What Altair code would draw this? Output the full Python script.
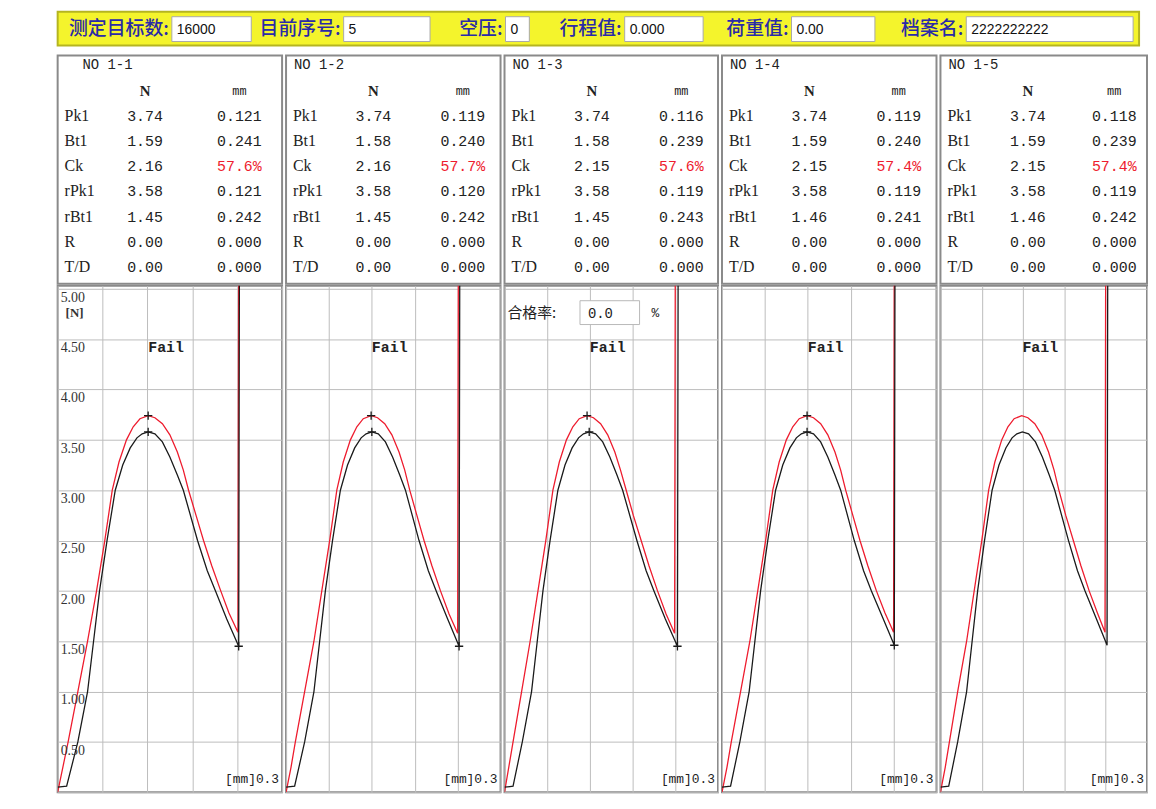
import altair as alt
import pandas as pd

# ---------------- data ----------------
PANELS = ["1-1", "1-2", "1-3", "1-4", "1-5"]
ROWS = ["Pk1", "Bt1", "Ck", "rPk1", "rBt1", "R", "T/D"]
N_VALS = [
    ["3.74", "1.59", "2.16", "3.58", "1.45", "0.00", "0.00"],
    ["3.74", "1.58", "2.16", "3.58", "1.45", "0.00", "0.00"],
    ["3.74", "1.58", "2.15", "3.58", "1.45", "0.00", "0.00"],
    ["3.74", "1.59", "2.15", "3.58", "1.46", "0.00", "0.00"],
    ["3.74", "1.59", "2.15", "3.58", "1.46", "0.00", "0.00"],
]
MM_VALS = [
    ["0.121", "0.241", "57.6%", "0.121", "0.242", "0.000", "0.000"],
    ["0.119", "0.240", "57.7%", "0.120", "0.242", "0.000", "0.000"],
    ["0.116", "0.239", "57.6%", "0.119", "0.243", "0.000", "0.000"],
    ["0.119", "0.240", "57.4%", "0.119", "0.241", "0.000", "0.000"],
    ["0.118", "0.239", "57.4%", "0.119", "0.242", "0.000", "0.000"],
]

HEADER_LABELS = ["测定目标数:", "目前序号:", "空压:", "行程值:", "荷重值:", "档案名:"]
HEADER_VALUES = ["16000", "5", "0", "0.000", "0.00", "2222222222"]

RED_X = [
    [0.000, 0.007, 0.014, 0.027, 0.040, 0.052, 0.063, 0.073, 0.082, 0.092, 0.101, 0.110, 0.121,
     0.130, 0.140, 0.150, 0.160, 0.168, 0.175, 0.185, 0.195, 0.206, 0.218, 0.229, 0.241, 0.242],
    [0.000, 0.007, 0.013, 0.026, 0.039, 0.050, 0.061, 0.071, 0.080, 0.090, 0.099, 0.108, 0.119,
     0.128, 0.138, 0.148, 0.158, 0.166, 0.173, 0.183, 0.193, 0.204, 0.216, 0.228, 0.240, 0.241],
    [0.000, 0.006, 0.012, 0.024, 0.036, 0.047, 0.058, 0.068, 0.077, 0.087, 0.096, 0.105, 0.116,
     0.125, 0.135, 0.145, 0.155, 0.163, 0.171, 0.181, 0.192, 0.203, 0.215, 0.227, 0.239, 0.240],
    [0.000, 0.007, 0.013, 0.026, 0.039, 0.050, 0.061, 0.071, 0.080, 0.090, 0.099, 0.108, 0.119,
     0.128, 0.138, 0.148, 0.158, 0.166, 0.173, 0.183, 0.193, 0.204, 0.216, 0.228, 0.240, 0.241],
    [0.000, 0.007, 0.013, 0.025, 0.038, 0.049, 0.060, 0.070, 0.079, 0.089, 0.098, 0.107, 0.118,
     0.127, 0.137, 0.147, 0.157, 0.165, 0.172, 0.182, 0.193, 0.204, 0.216, 0.228, 0.239, 0.240],
]
RED_Y = [
    [0.00, 0.25, 0.50, 1.00, 1.50, 2.00, 2.50, 3.00, 3.28, 3.50, 3.63, 3.71, 3.74,
     3.72, 3.66, 3.55, 3.38, 3.20, 3.00, 2.75, 2.50, 2.25, 2.00, 1.78, 1.59, 5.40],
    [0.00, 0.25, 0.50, 1.00, 1.50, 2.00, 2.50, 3.00, 3.28, 3.50, 3.63, 3.71, 3.74,
     3.72, 3.66, 3.55, 3.38, 3.20, 3.00, 2.75, 2.50, 2.25, 2.00, 1.77, 1.58, 5.40],
    [0.00, 0.25, 0.50, 1.00, 1.50, 2.00, 2.50, 3.00, 3.28, 3.50, 3.63, 3.71, 3.74,
     3.72, 3.66, 3.55, 3.38, 3.20, 3.00, 2.75, 2.50, 2.25, 2.00, 1.77, 1.58, 5.40],
    [0.00, 0.25, 0.50, 1.00, 1.50, 2.00, 2.50, 3.00, 3.28, 3.50, 3.63, 3.71, 3.74,
     3.72, 3.66, 3.55, 3.38, 3.20, 3.00, 2.75, 2.50, 2.25, 2.00, 1.78, 1.59, 5.40],
    [0.00, 0.25, 0.50, 1.00, 1.50, 2.00, 2.50, 3.00, 3.28, 3.50, 3.63, 3.71, 3.74,
     3.72, 3.66, 3.55, 3.38, 3.20, 3.00, 2.75, 2.50, 2.25, 2.00, 1.78, 1.59, 5.40],
]
BLACK_X = [
    [0.000, 0.012, 0.027, 0.040, 0.048, 0.056, 0.066, 0.077, 0.087, 0.097, 0.106, 0.113, 0.121,
     0.130, 0.140, 0.150, 0.160, 0.168, 0.187, 0.200, 0.211, 0.226, 0.242, 0.243],
    [0.000, 0.012, 0.026, 0.039, 0.047, 0.055, 0.065, 0.076, 0.086, 0.096, 0.105, 0.112, 0.120,
     0.129, 0.139, 0.149, 0.159, 0.167, 0.186, 0.199, 0.210, 0.226, 0.242, 0.243],
    [0.000, 0.012, 0.025, 0.038, 0.046, 0.054, 0.064, 0.075, 0.085, 0.095, 0.104, 0.111, 0.119,
     0.128, 0.138, 0.148, 0.158, 0.166, 0.186, 0.199, 0.210, 0.226, 0.243, 0.244],
    [0.000, 0.012, 0.025, 0.038, 0.046, 0.054, 0.064, 0.075, 0.085, 0.095, 0.104, 0.111, 0.119,
     0.128, 0.138, 0.148, 0.158, 0.166, 0.185, 0.198, 0.209, 0.225, 0.241, 0.242],
    [0.000, 0.012, 0.025, 0.038, 0.046, 0.054, 0.064, 0.075, 0.085, 0.095, 0.104, 0.111, 0.119,
     0.128, 0.138, 0.148, 0.158, 0.166, 0.186, 0.199, 0.210, 0.226, 0.242, 0.243],
]
BLACK_Y = [
    [0.05, 0.06, 0.50, 1.00, 1.50, 2.00, 2.50, 3.00, 3.25, 3.42, 3.52, 3.56, 3.58,
     3.56, 3.48, 3.33, 3.15, 3.00, 2.50, 2.20, 2.00, 1.72, 1.45, 5.40],
    [0.05, 0.06, 0.50, 1.00, 1.50, 2.00, 2.50, 3.00, 3.25, 3.42, 3.52, 3.56, 3.58,
     3.56, 3.48, 3.33, 3.15, 3.00, 2.50, 2.20, 2.00, 1.72, 1.45, 5.40],
    [0.05, 0.06, 0.50, 1.00, 1.50, 2.00, 2.50, 3.00, 3.25, 3.42, 3.52, 3.56, 3.58,
     3.56, 3.48, 3.33, 3.15, 3.00, 2.50, 2.20, 2.00, 1.72, 1.45, 5.40],
    [0.05, 0.06, 0.50, 1.00, 1.50, 2.00, 2.50, 3.00, 3.25, 3.42, 3.52, 3.56, 3.58,
     3.56, 3.48, 3.33, 3.15, 3.00, 2.50, 2.20, 2.00, 1.73, 1.46, 5.40],
    [0.05, 0.06, 0.50, 1.00, 1.50, 2.00, 2.50, 3.00, 3.25, 3.42, 3.52, 3.56, 3.58,
     3.56, 3.48, 3.33, 3.15, 3.00, 2.50, 2.20, 2.00, 1.73, 1.46, 5.40],
]
SHOW_MARKERS = [True, True, True, True, False]

X_GRID = [0.0, 0.06, 0.12, 0.18, 0.24, 0.30]
Y_GRID = [0.0, 0.5, 1.0, 1.5, 2.0, 2.5, 3.0, 3.5, 4.0, 4.5, 5.0]
Y_LABEL_VALS = [0.5, 1.0, 1.5, 2.0, 2.5, 3.0, 3.5, 4.0, 4.5, 5.0]
Y_LABELS = ["0.50", "1.00", "1.50", "2.00", "2.50", "3.00", "3.50", "4.00", "4.50", "5.00"]
FAIL_X = [0.145]
FAIL_Y = [4.42]
PASS_RATE = "0.0"

# ---------------- layout / style ----------------
W = [226, 216, 215, 216, 208]
SP = 2
TABLE_H = 230
PLOT_H = 510
HEADER_H = 34
HEADER_W = sum(W) + SP * (len(W) - 1)
NO_X = [25, 8, 8, 8, 8]
N_X = [88, 88, 88, 88, 88]
MM_X = [183, 178, 178, 178, 175]

BOX_X = [115, 288, 451, 571, 739, 915]
BOX_X2 = [195, 375, 475, 650, 823, 1083]

RED = "#ee1c2e"
BLACK = "#1a1a1a"
GRID = "#bcbcbc"
BORDER = "#8a8a8a"
TXT = "#222222"

one = pd.DataFrame({"k": [0]})


def header_chart():
    layers = []
    for lab, val, bx, bx2 in zip(HEADER_LABELS, HEADER_VALUES, BOX_X, BOX_X2):
        layers.append(alt.Chart(pd.DataFrame({"t": [lab]})).mark_text(
            align="right", baseline="middle", font="Noto Sans CJK SC", fontSize=19,
            fontWeight=500, color="#2a2aa8").encode(
            x=alt.value(bx - 3), y=alt.value(HEADER_H / 2), text="t:N"))
        layers.append(alt.Chart(one).mark_rect(fill="white", stroke="#a8a8a8", strokeWidth=1).encode(
            x=alt.value(bx), x2=alt.value(bx2), y=alt.value(5), y2=alt.value(HEADER_H - 4)))
        layers.append(alt.Chart(pd.DataFrame({"t": [val]})).mark_text(
            align="left", baseline="middle", font="Liberation Sans", fontSize=14,
            color="#111111").encode(x=alt.value(bx + 5), y=alt.value(HEADER_H / 2 + 1), text="t:N"))
    return alt.layer(*layers).properties(
        width=HEADER_W, height=HEADER_H,
        view=alt.ViewBackground(fill="#f4f42c", stroke="#b5b520", strokeWidth=2))


def table_chart(i):
    w = W[i]
    domain = ["hdr", "unit"] + ROWS
    ysc = alt.Scale(domain=domain, range=[10, 213], padding=0)
    df = pd.DataFrame({
        "row": ROWS, "n": N_VALS[i], "mm": MM_VALS[i],
        "clr": [RED if r == "Ck" else TXT for r in ROWS],
    })
    y = alt.Y("row:N", scale=ysc, axis=None)
    base = alt.Chart(df)
    lab = base.mark_text(align="left", baseline="middle", font="Liberation Serif",
                         fontSize=16, color=TXT).encode(x=alt.value(7), y=y, text="row:N")
    nv = base.mark_text(align="center", baseline="middle", font="Liberation Mono",
                        fontSize=15, color=TXT).encode(x=alt.value(N_X[i]), y=y, text="n:N")
    mv = base.mark_text(align="center", baseline="middle", font="Liberation Mono",
                        fontSize=15).encode(x=alt.value(MM_X[i]), y=y, text="mm:N",
                                            color=alt.Color("clr:N", scale=None))
    hdr = alt.Chart(pd.DataFrame({"row": ["hdr"], "t": ["NO  " + PANELS[i]]})).mark_text(
        align="left", baseline="middle", font="Liberation Mono", fontSize=14, color=TXT).encode(
        x=alt.value(NO_X[i]), y=y, text="t:N")
    un = alt.Chart(pd.DataFrame({"row": ["unit"], "t": ["N"]})).mark_text(
        align="center", baseline="middle", font="Liberation Serif", fontSize=15,
        fontWeight="bold", color=TXT).encode(x=alt.value(N_X[i]), y=y, text="t:N")
    um = alt.Chart(pd.DataFrame({"row": ["unit"], "t": ["mm"]})).mark_text(
        align="center", baseline="middle", font="Liberation Mono", fontSize=12,
        color=TXT).encode(x=alt.value(MM_X[i]), y=y, text="t:N")
    return alt.layer(hdr, un, um, lab, nv, mv).properties(
        width=w, height=TABLE_H,
        view=alt.ViewBackground(fill="white", stroke=BORDER, strokeWidth=2))


def plot_chart(i):
    w = W[i]
    xs = alt.Scale(domain=[0, 0.3], nice=False, zero=False)
    ys = alt.Scale(domain=[0, 5.03], nice=False, zero=False)
    xax = alt.Axis(values=X_GRID, grid=True, labels=False, ticks=False, domain=False,
                   gridColor=GRID, gridWidth=1)
    yax = alt.Axis(values=Y_GRID, grid=True, labels=False, ticks=False, domain=False,
                   gridColor=GRID, gridWidth=1)
    X = alt.X("x:Q", scale=xs, axis=xax, title=None)
    Y = alt.Y("y:Q", scale=ys, axis=yax, title=None)

    red_df = pd.DataFrame({"x": RED_X[i], "y": RED_Y[i], "o": list(range(len(RED_X[i])))})
    blk_df = pd.DataFrame({"x": BLACK_X[i], "y": BLACK_Y[i], "o": list(range(len(BLACK_X[i])))})
    red = alt.Chart(red_df).mark_line(color=RED, strokeWidth=1.3, clip=True).encode(
        x=X, y=Y, order="o:Q")
    blk = alt.Chart(blk_df).mark_line(color=BLACK, strokeWidth=1.3, clip=True).encode(
        x=X, y=Y, order="o:Q")

    fail = alt.Chart(pd.DataFrame({"x": FAIL_X, "y": FAIL_Y, "t": ["Fail"]})).mark_text(
        align="center", baseline="middle", font="Liberation Mono", fontSize=15,
        fontWeight="bold", color=TXT).encode(x=X, y=Y, text="t:N")
    unit = alt.Chart(pd.DataFrame({"t": ["[mm]0.3"]})).mark_text(
        align="right", baseline="middle", font="Liberation Mono", fontSize=13,
        color=TXT).encode(x=alt.value(w - 3), y=alt.value(PLOT_H - 13), text="t:N")
    layers = [red, blk, fail, unit]

    if SHOW_MARKERS[i]:
        pk_n = float(N_VALS[i][0])
        rpk_n, rbt_n = float(N_VALS[i][3]), float(N_VALS[i][4])
        pk_x, rpk_x, rbt_x = float(MM_VALS[i][0]), float(MM_VALS[i][3]), float(MM_VALS[i][4])
        mk = alt.Chart(pd.DataFrame({"x": [pk_x, rpk_x, rbt_x], "y": [pk_n, rpk_n, rbt_n]})).mark_point(
            shape="M -1 0 L 1 0 M 0 -1 L 0 1", size=70, filled=False, color=BLACK,
            strokeWidth=1.3, opacity=1).encode(x=X, y=Y)
        layers.append(mk)

    if i == 0:
        yl = alt.Chart(pd.DataFrame({"y": Y_LABEL_VALS, "t": Y_LABELS})).mark_text(
            align="left", baseline="top", dy=2, font="Liberation Serif", fontSize=14,
            color="#333333").encode(x=alt.value(3), y=Y, text="t:N")
        nl = alt.Chart(pd.DataFrame({"t": ["[N]"]})).mark_text(
            align="left", baseline="middle", font="Liberation Serif", fontSize=13,
            fontWeight="bold", color="#333333").encode(x=alt.value(8), y=alt.value(27), text="t:N")
        layers += [yl, nl]

    if i == 2:
        pr_lab = alt.Chart(pd.DataFrame({"t": ["合格率:"]})).mark_text(
            align="left", baseline="middle", font="Noto Sans CJK SC", fontSize=15,
            color=TXT).encode(x=alt.value(3), y=alt.value(27), text="t:N")
        pr_box = alt.Chart(one).mark_rect(fill="white", stroke="#b8b8b8", strokeWidth=1).encode(
            x=alt.value(76), x2=alt.value(136), y=alt.value(15), y2=alt.value(39))
        pr_val = alt.Chart(pd.DataFrame({"t": [PASS_RATE]})).mark_text(
            align="left", baseline="middle", font="Liberation Mono", fontSize=14,
            color=TXT).encode(x=alt.value(84), y=alt.value(28), text="t:N")
        pr_pct = alt.Chart(pd.DataFrame({"t": ["%"]})).mark_text(
            align="left", baseline="middle", font="Liberation Mono", fontSize=13,
            color=TXT).encode(x=alt.value(148), y=alt.value(27), text="t:N")
        layers += [pr_box, pr_lab, pr_val, pr_pct]

    return alt.layer(*layers).properties(
        width=w, height=PLOT_H,
        view=alt.ViewBackground(fill="white", stroke=BORDER, strokeWidth=2))


tables = alt.hconcat(*[table_chart(i) for i in range(5)], spacing=SP)
plots = alt.hconcat(*[plot_chart(i) for i in range(5)], spacing=SP)
body = alt.vconcat(tables, plots, spacing=0)
chart = alt.vconcat(header_chart(), body, spacing=8).properties(
    padding={"left": 49, "top": 0, "right": 0, "bottom": 0}
).configure(background="white")

chart.save("out.html", embed_options={"renderer": "svg", "actions": False})
